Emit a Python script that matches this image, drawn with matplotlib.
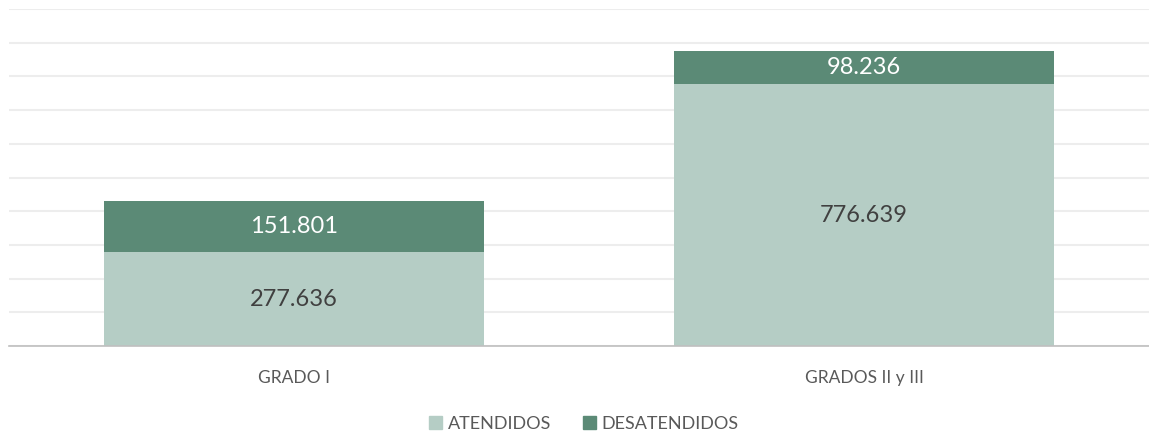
import matplotlib.pyplot as plt
from matplotlib.patches import Patch

# Datos por grado de dependencia
grados = ["GRADO I", "GRADOS II y III"]
atendidos = [277636, 776639]
desatendidos = [151801, 98236]

C_ATEND = "#B5CDC5"
C_DESAT = "#5B8A76"

plt.rcParams['font.family'] = ['Lato', 'DejaVu Sans']


def fmt(v):
    # separador de miles con punto
    return f"{v:,}".replace(",", ".")


fig = plt.figure(figsize=(11.49, 4.34), dpi=100)
ax = fig.add_axes([9 / 1149, 88 / 434, 1140 / 1149, 337 / 434])

x = list(range(len(grados)))
ancho = 0.667
ax.bar(x, atendidos, width=ancho, color=C_ATEND, zorder=2)
ax.bar(x, desatendidos, width=ancho, bottom=atendidos, color=C_DESAT, zorder=2)

for i in x:
    ax.text(i, atendidos[i] / 2, fmt(atendidos[i]), ha="center", va="center",
            fontsize=17, color="#404040", zorder=3)
    ax.text(i, atendidos[i] + desatendidos[i] / 2, fmt(desatendidos[i]), ha="center",
            va="center", fontsize=17, color="white", zorder=3)

ax.set_xlim(-0.5, 1.5)
ax.set_ylim(0, 1000000)
ax.set_yticks(range(0, 1000001, 100000))
ax.yaxis.grid(True, color="#EDEDED", linewidth=1.5, zorder=0)
ax.tick_params(axis="y", left=False, labelleft=False)
ax.tick_params(axis="x", bottom=False, labelsize=12.5, colors="#595959", pad=14)
ax.set_xticks(x)
ax.set_xticklabels(grados)
for s in ["top", "right", "left"]:
    ax.spines[s].set_visible(False)
ax.spines["bottom"].set_color("#BFBFBF")
ax.spines["bottom"].set_linewidth(1.2)
ax.spines["bottom"].set_zorder(3)

handles = [Patch(color=C_ATEND, label="ATENDIDOS"), Patch(color=C_DESAT, label="DESATENDIDOS")]
fig.legend(handles=handles, loc="center", bbox_to_anchor=(584 / 1149, 1 - 424 / 434), ncol=2,
           frameon=False, fontsize=13, labelcolor="#595959", handlelength=0.7, handleheight=0.7,
           handletextpad=0.3, columnspacing=1.8)

fig.savefig("out.png", dpi=100)
